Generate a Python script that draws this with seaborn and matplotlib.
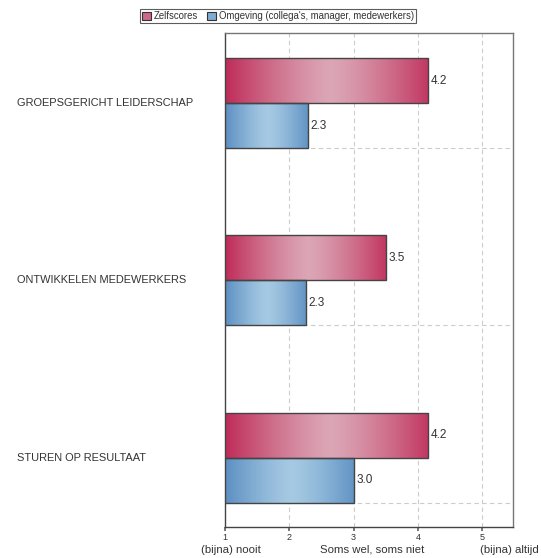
import numpy as np
import pandas as pd
import matplotlib
matplotlib.use("Agg")
import matplotlib.pyplot as plt
import matplotlib.transforms as mtransforms
from matplotlib.patches import Patch
import seaborn as sns

categories = ["GROEPSGERICHT LEIDERSCHAP", "ONTWIKKELEN MEDEWERKERS", "STUREN OP RESULTAAT"]
series = ["Zelfscores", "Omgeving (collega's, manager, medewerkers)"]
zelfscores = [4.16, 3.50, 4.16]
omgeving = [2.29, 2.26, 3.00]
xticks = [1, 2, 3, 4, 5]
scale_labels = ["(bijna) nooit", "Soms wel, soms niet", "(bijna) altijd"]
scale_pos = [1.09, 3.29, 5.42]

df = pd.DataFrame({
    "categorie": categories * 2,
    "reeks": [series[0]] * 3 + [series[1]] * 3,
    "score": zelfscores + omgeving,
})

sns.set_theme(style="white")
plt.rcParams["font.family"] = ["Liberation Sans", "DejaVu Sans"]

dark = {series[0]: np.array([0.75, 0.17, 0.35]), series[1]: np.array([0.36, 0.56, 0.76])}
light = {series[0]: np.array([0.86, 0.65, 0.71]), series[1]: np.array([0.65, 0.79, 0.89])}
mid = {k: (dark[k] + light[k]) / 2 for k in dark}

fig = plt.figure(figsize=(5.41, 5.58), dpi=100)
ax = fig.add_axes([225 / 541, 1 - 527 / 558, (513 - 225) / 541, (527 - 33) / 558])

sns.barplot(data=df, y="categorie", x="score", hue="reeks", orient="h",
            palette=mid, width=0.508, ax=ax, legend=False, edgecolor="#444444",
            linewidth=1.0, saturation=1)

XMIN, XMAX = 1, 5.48
ax.set_xlim(XMIN, XMAX)
ax.set_ylim(2.39, -0.395)

# gradient fills (over the visible part of each bar)
t = np.linspace(0, 1, 256)
prof = np.abs(t - 0.52) / 0.52
prof = np.clip(prof, 0, 1) ** 1.3
n = len(categories)
for i, patch in enumerate(ax.patches):
    key = series[0] if i < n else series[1]
    img = light[key][None, :] + (dark[key] - light[key])[None, :] * prof[:, None]
    img = img[None, :, :]
    x0, y0 = patch.get_x(), patch.get_y()
    w, h = patch.get_width(), patch.get_height()
    xs = max(x0, XMIN)
    im = ax.imshow(img, extent=[xs, x0 + w, y0 + h, y0], aspect="auto",
                   zorder=patch.get_zorder() - 0.05, interpolation="bilinear")
    im.set_clip_path(patch)
    patch.set_facecolor("none")

ax.set_xlim(XMIN, XMAX)
ax.set_ylim(2.39, -0.395)

for c in ax.containers:
    ax.bar_label(c, fmt="%.1f", padding=2, fontsize=8.5, color="#333333")

# grid
for xv in xticks[1:]:
    ax.axvline(xv, color="#cccccc", lw=0.8, ls=(0, (4, 3)), zorder=0.5)
for i in range(n):
    ax.axhline(i + 0.254, color="#cccccc", lw=0.8, ls=(0, (4, 3)), zorder=0.5)

ax.set_xticks(xticks)
ax.set_xticklabels([str(v) for v in xticks], fontsize=6.5, color="#333333")
ax.tick_params(axis="x", length=3, color="#666666", pad=1.5, bottom=True)
ax.set_yticks(range(n))
ax.set_yticklabels([])
ax.tick_params(axis="y", length=0)
ax.set_xlabel("")
ax.set_ylabel("")

for s in ax.spines.values():
    s.set_color("#777777")
    s.set_linewidth(1.0)
ax.spines["left"].set_color("#444444")
ax.spines["bottom"].set_color("#444444")

trans = mtransforms.blended_transform_factory(fig.transFigure, ax.transData)
for i, cat in enumerate(categories):
    ax.text(17 / 541, i, cat, transform=trans, ha="left", va="center",
            fontsize=7.9, color="#333333")

trans2 = mtransforms.blended_transform_factory(ax.transData, fig.transFigure)
for p, lab in zip(scale_pos, scale_labels):
    ax.text(p, 1 - 550 / 558, lab, transform=trans2, ha="center", va="center",
            fontsize=8.2, color="#333333", clip_on=False)

handles = [Patch(facecolor=mid[s], edgecolor="#333333", linewidth=0.8) for s in series]
leg = fig.legend(handles, series, loc="center", bbox_to_anchor=(278 / 541, 1 - 16 / 558),
                 ncol=2, fontsize=6.9, frameon=True, fancybox=False, handlelength=0.9,
                 handleheight=0.9, handletextpad=0.3, columnspacing=1.0,
                 borderpad=0.25, borderaxespad=0)
for txt in leg.get_texts():
    txt.set_color("#333333")
leg.get_frame().set_edgecolor("#333333")
leg.get_frame().set_linewidth(0.8)

fig.savefig("out.png", dpi=100, facecolor="white")
